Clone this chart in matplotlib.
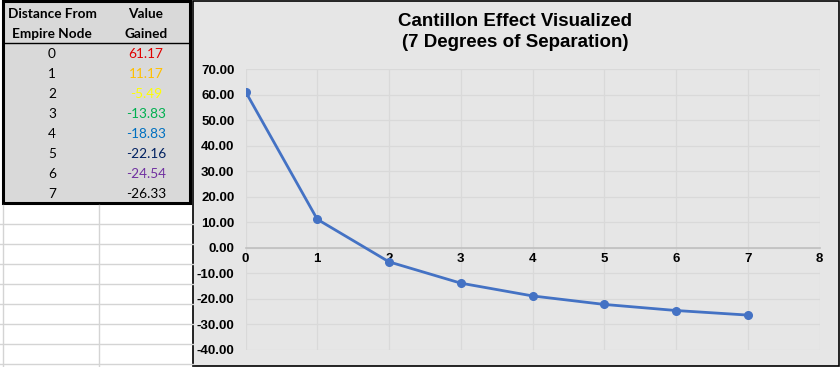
import numpy as np
import matplotlib.pyplot as plt
from matplotlib.patches import Rectangle

plt.rcParams['font.family'] = ['Liberation Sans', 'DejaVu Sans']

# data
distance = [0, 1, 2, 3, 4, 5, 6, 7]
value_gained = [61.17, 11.17, -5.49, -13.83, -18.83, -22.16, -24.54, -26.33]
value_colors = ['#e00000', '#ffc000', '#ffff00', '#00b050', '#0070c0',
                '#002060', '#7030a0', '#000000']
header = [['Distance From', 'Value'], ['Empire Node', 'Gained']]
y_ticks = [70, 60, 50, 40, 30, 20, 10, 0, -10, -20, -30, -40]
x_ticks = [0, 1, 2, 3, 4, 5, 6, 7, 8]

W, H = 840, 367
fig = plt.figure(figsize=(8.4, 3.67), dpi=100)
fig.patch.set_facecolor('white')

# background layer in pixel coords (spreadsheet + table + chart frame)
bg = fig.add_axes([0, 0, 1, 1])
bg.set_xlim(0, W)
bg.set_ylim(H, 0)
bg.axis('off')

# spreadsheet gridlines under the table
for yy in range(224, H, 20):
    bg.plot([0, 193], [yy, yy], color='#d4d4d4', lw=1)
for xx in [3, 99]:
    bg.plot([xx, xx], [205, H], color='#d4d4d4', lw=1)

# table
bg.add_patch(Rectangle((3, 1), 187, 202, facecolor='#d9d9d9',
                       edgecolor='black', lw=2.2))
bg.plot([3, 190], [43, 43], color='black', lw=1)
tfont = ['Lato', 'DejaVu Sans']
for i, row in enumerate(header):
    bg.text(52, 14 + 20 * i, row[0], ha='center', va='center', fontsize=9.8,
            fontweight='bold', family=tfont)
    bg.text(146, 14 + 20 * i, row[1], ha='center', va='center', fontsize=9.8,
            fontweight='bold', family=tfont)
for i, (d, v) in enumerate(zip(distance, value_gained)):
    bg.text(52, 54 + 20 * i, str(d), ha='center', va='center', fontsize=9.8,
            family=tfont)
    bg.text(146, 54 + 20 * i, '%.2f' % v, ha='center', va='center',
            fontsize=9.8, family=tfont, color=value_colors[i])

# chart frame
bg.add_patch(Rectangle((193, 1), 645.5, 365, facecolor='#e6e6e6',
                       edgecolor='black', lw=1.2))
bg.text(515, 32, 'Cantillon Effect Visualized\n(7 Degrees of Separation)',
        ha='center', va='center', fontsize=13.5, fontweight='bold',
        linespacing=1.25)

# plot area
ax = fig.add_axes([245.5 / W, 1 - 350 / H, 574 / W, 281 / H])
ax.set_facecolor('none')
ax.plot(distance, value_gained, color='#4472c4', lw=2, marker='o',
        markersize=5.5, zorder=3)
ax.set_xlim(0, 8)
ax.set_ylim(-40, 70)
ax.set_xticks(x_ticks)
ax.set_yticks(y_ticks)
ax.set_yticklabels(['%.2f' % t for t in y_ticks])
ax.grid(color='#d9d9d9', lw=0.9)
for s in ['top', 'right', 'left']:
    ax.spines[s].set_visible(False)
ax.spines['bottom'].set_position(('data', 0))
ax.spines['bottom'].set_color('#bfbfbf')
ax.spines['bottom'].set_linewidth(1.2)
ax.tick_params(length=0, labelsize=9.5, colors='black')
ax.tick_params(axis='y', pad=8)
ax.tick_params(axis='x', pad=4)
for lab in ax.get_xticklabels() + ax.get_yticklabels():
    lab.set_fontweight('bold')

fig.savefig('out.png', dpi=100)
